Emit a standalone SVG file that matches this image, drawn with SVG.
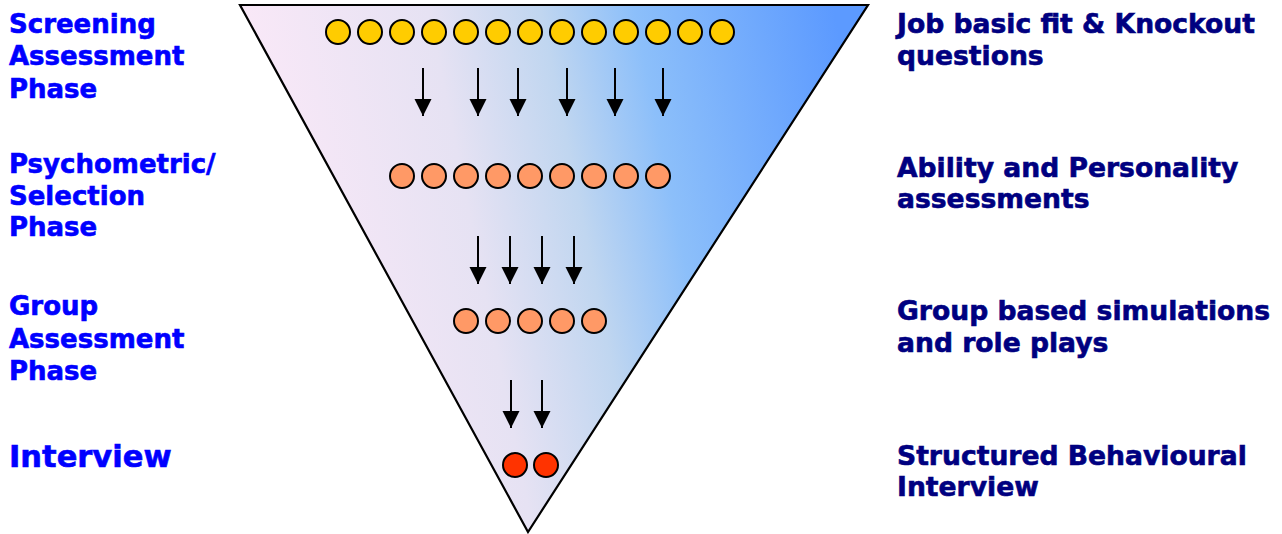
<svg xmlns="http://www.w3.org/2000/svg" width="1282" height="534" viewBox="0 0 1282 534">
<defs>
<linearGradient id="g" gradientUnits="userSpaceOnUse" x1="260" y1="260" x2="860" y2="140">
<stop offset="0" stop-color="#FCE9F8"/>
<stop offset="0.35" stop-color="#E6E2F3"/>
<stop offset="0.53" stop-color="#C0D6F0"/>
<stop offset="0.68" stop-color="#8CBFFA"/>
<stop offset="1" stop-color="#5C9AFF"/>
</linearGradient>
<marker id="ah" markerUnits="userSpaceOnUse" markerWidth="20" markerHeight="20" refX="17" refY="8.5" orient="auto" overflow="visible">
<path d="M0,0 L17,8.5 L0,17 z" fill="#000"/>
</marker>
</defs>
<style>
.l{font-family:"DejaVu Sans","Verdana",sans-serif;font-weight:bold;font-size:26px;fill:#0000FF;stroke:#0000FF;stroke-width:0.6}
.r{font-family:"DejaVu Sans","Verdana",sans-serif;font-weight:bold;font-size:26.6px;fill:#000080;stroke:#000080;stroke-width:0.6}
.a{stroke:#000;stroke-width:2;marker-end:url(#ah)}
.c{stroke:#000;stroke-width:2}
.y{fill:#FFCC00}.o{fill:#FF9966}.d{fill:#FF3300}
</style>
<g id="funnel">
<polygon points="240,5 868,5 528,532" fill="url(#g)" stroke="#000" stroke-width="2.2" stroke-linejoin="miter"/>
</g>
<g id="labels-left">
<text class="l"><tspan x="9" y="33">Screening</tspan><tspan x="9" y="65">Assessment</tspan><tspan x="9" y="98">Phase</tspan></text>
<text class="l"><tspan x="9" y="173">Psychometric/</tspan><tspan x="9" y="205">Selection</tspan><tspan x="9" y="236">Phase</tspan></text>
<text class="l"><tspan x="9" y="315">Group</tspan><tspan x="9" y="348">Assessment</tspan><tspan x="9" y="380">Phase</tspan></text>
<text class="l" x="9" y="467" style="font-size:30.5px">Interview</text>
</g>
<g id="labels-right">
<text class="r"><tspan x="897" y="33">Job basic fit &amp; Knockout</tspan><tspan x="897" y="65">questions</tspan></text>
<text class="r"><tspan x="897" y="177">Ability and Personality</tspan><tspan x="897" y="208">assessments</tspan></text>
<text class="r"><tspan x="897" y="320">Group based simulations</tspan><tspan x="897" y="352">and role plays</tspan></text>
<text class="r"><tspan x="897" y="465">Structured Behavioural</tspan><tspan x="897" y="496">Interview</tspan></text>
</g>
<g id="row1" class="c y">
<circle cx="338" cy="32" r="12"/><circle cx="370" cy="32" r="12"/><circle cx="402" cy="32" r="12"/><circle cx="434" cy="32" r="12"/><circle cx="466" cy="32" r="12"/><circle cx="498" cy="32" r="12"/><circle cx="530" cy="32" r="12"/><circle cx="562" cy="32" r="12"/><circle cx="594" cy="32" r="12"/><circle cx="626" cy="32" r="12"/><circle cx="658" cy="32" r="12"/><circle cx="690" cy="32" r="12"/><circle cx="722" cy="32" r="12"/>
</g>
<g id="row2" class="c o">
<circle cx="402" cy="176" r="12"/><circle cx="434" cy="176" r="12"/><circle cx="466" cy="176" r="12"/><circle cx="498" cy="176" r="12"/><circle cx="530" cy="176" r="12"/><circle cx="562" cy="176" r="12"/><circle cx="594" cy="176" r="12"/><circle cx="626" cy="176" r="12"/><circle cx="658" cy="176" r="12"/>
</g>
<g id="row3" class="c o">
<circle cx="466" cy="321" r="12"/><circle cx="498" cy="321" r="12"/><circle cx="530" cy="321" r="12"/><circle cx="562" cy="321" r="12"/><circle cx="594" cy="321" r="12"/>
</g>
<g id="row4" class="c d">
<circle cx="515" cy="465" r="12"/><circle cx="546" cy="465" r="12"/>
</g>
<g id="connectors">
<line class="a" x1="423" y1="68" x2="423" y2="116"/>
<line class="a" x1="478" y1="68" x2="478" y2="116"/>
<line class="a" x1="518" y1="68" x2="518" y2="116"/>
<line class="a" x1="567" y1="68" x2="567" y2="116"/>
<line class="a" x1="615" y1="68" x2="615" y2="116"/>
<line class="a" x1="663" y1="68" x2="663" y2="116"/>
<line class="a" x1="478" y1="236" x2="478" y2="284"/>
<line class="a" x1="510" y1="236" x2="510" y2="284"/>
<line class="a" x1="542" y1="236" x2="542" y2="284"/>
<line class="a" x1="574" y1="236" x2="574" y2="284"/>
<line class="a" x1="511" y1="380" x2="511" y2="428"/>
<line class="a" x1="542" y1="380" x2="542" y2="428"/>
</g>
</svg>
